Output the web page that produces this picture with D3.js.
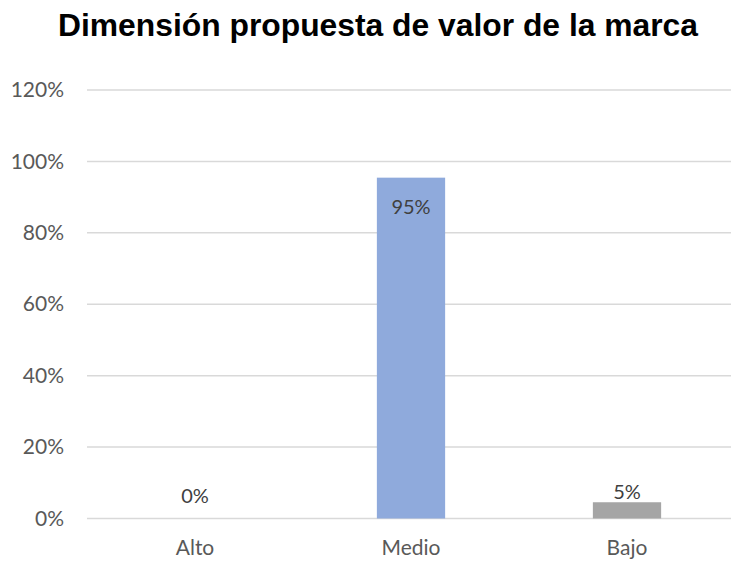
<!DOCTYPE html>
<html>
<head>
<meta charset="utf-8">
<script src="https://cdn.jsdelivr.net/npm/d3@7"></script>
<style>
  body { margin: 0; background: #fff; }
  svg text { font-family: Lato, "Open Sans", sans-serif; }
</style>
</head>
<body>
<div id="chart"></div>
<script>
// chart data
var categories = ["Alto", "Medio", "Bajo"];
var values = [0, 0.9545, 0.0455];
var barColors = ["#4472c4", "#8faadc", "#a5a5a5"];
var yTicks = [0, 0.2, 0.4, 0.6, 0.8, 1.0, 1.2];

var svgWidth = 731;
var svgHeight = 562;

var svg = d3.select("#chart")
  .append("svg")
  .attr("width", svgWidth)
  .attr("height", svgHeight);

// title
svg.append("text")
  .attr("x", 58)
  .attr("y", 36)
  .attr("textLength", 640)
  .attr("lengthAdjust", "spacingAndGlyphs")
  .style("font-family", "Arial, 'Liberation Sans', sans-serif")
  .style("font-weight", "bold")
  .style("font-size", "31px")
  .attr("fill", "#000")
  .text("Dimensión propuesta de valor de la marca");

// scales
var x = d3.scaleBand()
  .domain(categories)
  .range([87, 735])
  .paddingInner(0.684)
  .paddingOuter(0.342);

var y = d3.scaleLinear()
  .domain([0, 1.2])
  .range([518.5, 90]);

// gridlines
svg.append("g")
  .selectAll("line")
  .data(yTicks)
  .enter()
  .append("line")
  .attr("x1", 87)
  .attr("x2", svgWidth)
  .attr("y1", d => y(d))
  .attr("y2", d => y(d))
  .attr("stroke", "#d9d9d9")
  .attr("stroke-width", 1.5);

// y axis labels
var leftAxis = d3.axisLeft(y)
  .tickValues(yTicks)
  .tickFormat(d3.format(".0%"))
  .tickSize(0)
  .tickPadding(0);

var yAxis = svg.append("g")
  .attr("transform", "translate(64,0)")
  .call(leftAxis);
yAxis.select(".domain").remove();
yAxis.selectAll("text")
  .attr("fill", "#595959")
  .style("font-size", "21px");

// x axis labels
var bottomAxis = d3.axisBottom(x).tickSize(0).tickPadding(0);
var xAxis = svg.append("g")
  .attr("transform", "translate(0,540)")
  .call(bottomAxis);
xAxis.select(".domain").remove();
xAxis.selectAll("text")
  .attr("fill", "#595959")
  .style("font-size", "21px");

// bars
svg.selectAll("rect.bar")
  .data(values)
  .enter()
  .append("rect")
  .attr("class", "bar")
  .attr("x", (d, i) => x(categories[i]))
  .attr("width", x.bandwidth())
  .attr("y", d => y(d))
  .attr("height", d => y(0) - y(d))
  .attr("fill", (d, i) => barColors[i]);

// data labels: inside end for the tall bar, above the short ones
svg.selectAll("text.lbl")
  .data(values)
  .enter()
  .append("text")
  .attr("class", "lbl")
  .attr("x", (d, i) => x(categories[i]) + x.bandwidth() / 2)
  .attr("y", d => d > 0.5 ? y(d) + 36 : Math.min(y(d) - 3, y(0) - 16))
  .attr("text-anchor", "middle")
  .attr("fill", "#404040")
  .style("font-size", "20px")
  .text(d => d3.format(".0%")(d));
</script>
</body>
</html>
